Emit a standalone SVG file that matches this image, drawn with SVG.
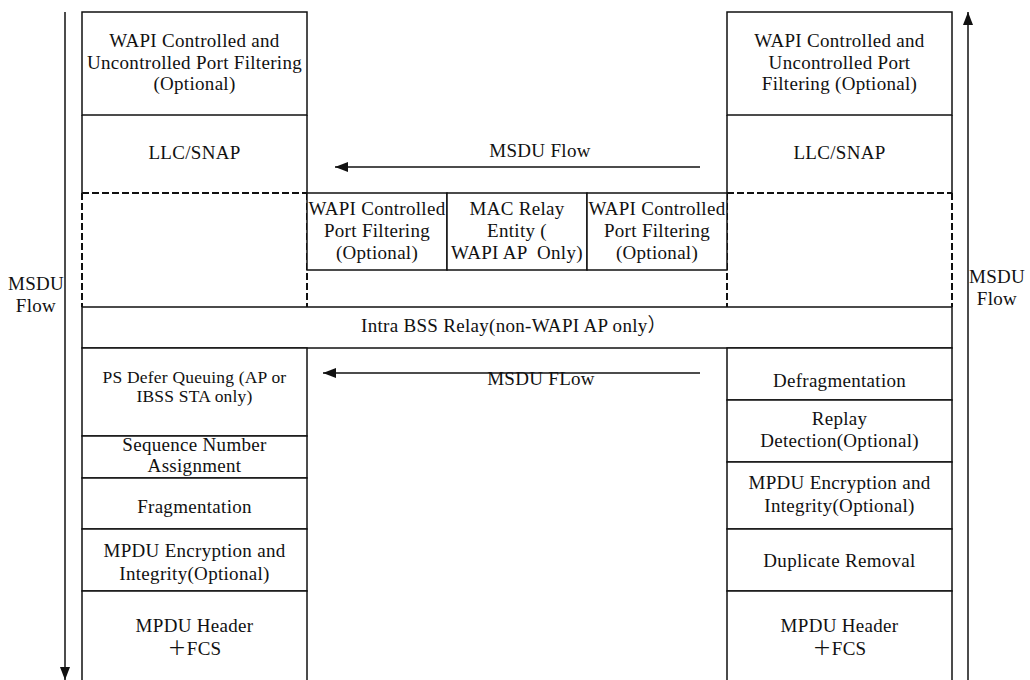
<svg xmlns="http://www.w3.org/2000/svg" width="1030" height="680" viewBox="0 0 1030 680">
<defs>
<style>
.b{fill:#fff;stroke:#111;stroke-width:1.5}
.o{fill:none;stroke:#111;stroke-width:1.5}
.d{fill:none;stroke:#111;stroke-width:2;stroke-dasharray:7 3}
.t{font-family:"Liberation Serif","Times New Roman","Noto Sans CJK SC",serif;font-size:19px;letter-spacing:0.3px;fill:#111;text-anchor:middle;white-space:pre}
.s{font-size:17.5px;letter-spacing:0.2px}
.c{fill:none;stroke:#111;stroke-width:1.5}
</style>
<marker id="ahv" viewBox="0 0 13 10" refX="13" refY="5" markerWidth="13" markerHeight="10" markerUnits="userSpaceOnUse" orient="auto">
<path d="M0,0 L13,5 L0,10 Z" fill="#111"/>
</marker>
</defs>
<rect width="1030" height="680" fill="#fff"/>

<g id="left-port-filtering">
<rect class="b" x="82" y="12" width="225" height="103"/>
<text class="t" x="194.5" y="47">WAPI Controlled and</text>
<text class="t" x="194.5" y="68.5">Uncontrolled Port Filtering</text>
<text class="t" x="194.5" y="90">(Optional)</text>
</g>
<g id="left-llc">
<path class="o" d="M82,115 V193 M307,115 V193"/>
<text class="t" x="194.5" y="159">LLC/SNAP</text>
</g>
<g id="left-dashed">
<path class="d" d="M82,193 H307 M82,193 V307 M307,193 V307"/>
</g>

<g id="right-port-filtering">
<rect class="b" x="727" y="12" width="225" height="103"/>
<text class="t" x="839.5" y="47">WAPI Controlled and</text>
<text class="t" x="839.5" y="68.5">Uncontrolled Port</text>
<text class="t" x="839.5" y="90">Filtering (Optional)</text>
</g>
<g id="right-llc">
<path class="o" d="M727,115 V193 M952,115 V193"/>
<text class="t" x="839.5" y="159">LLC/SNAP</text>
</g>
<g id="right-dashed">
<path class="d" d="M727,193 H952 M727,193 V307 M952,193 V307"/>
</g>

<g id="mid-filter-left">
<rect class="b" x="307" y="193" width="140" height="77"/>
<text class="t" x="377" y="215">WAPI Controlled</text>
<text class="t" x="377" y="237">Port Filtering</text>
<text class="t" x="377" y="259">(Optional)</text>
</g>
<g id="mid-relay">
<rect class="b" x="447" y="193" width="140" height="77"/>
<text class="t" x="517" y="215">MAC Relay</text>
<text class="t" x="517" y="237">Entity (</text>
<text class="t" x="517" y="259">WAPI AP  Only)</text>
</g>
<g id="mid-filter-right">
<rect class="b" x="587" y="193" width="140" height="77"/>
<text class="t" x="657" y="215">WAPI Controlled</text>
<text class="t" x="657" y="237">Port Filtering</text>
<text class="t" x="657" y="259">(Optional)</text>
</g>

<g id="intra-bss">
<rect class="b" x="82" y="307" width="870" height="41"/>
<text class="t" x="514" y="332">Intra BSS Relay(non-WAPI AP only）</text>
</g>

<g id="left-ps-defer">
<rect class="b" x="82" y="348" width="225" height="88"/>
<text class="t s" x="194.5" y="383">PS Defer Queuing (AP or</text>
<text class="t s" x="194.5" y="402">IBSS STA only)</text>
</g>
<g id="left-seq">
<rect class="b" x="82" y="436" width="225" height="42"/>
<text class="t" x="194.5" y="451">Sequence Number</text>
<text class="t" x="194.5" y="472">Assignment</text>
</g>
<g id="left-frag">
<rect class="b" x="82" y="478" width="225" height="51"/>
<text class="t" x="194.5" y="513">Fragmentation</text>
</g>
<g id="left-encrypt">
<rect class="b" x="82" y="529" width="225" height="62"/>
<text class="t" x="194.5" y="557">MPDU Encryption and</text>
<text class="t" x="194.5" y="580">Integrity(Optional)</text>
</g>
<g id="left-header">
<rect class="b" x="82" y="591" width="225" height="95"/>
<text class="t" x="194.5" y="632">MPDU Header</text>
<text class="t" x="194.5" y="655">＋FCS</text>
</g>

<g id="right-defrag">
<rect class="b" x="727" y="348" width="225" height="52"/>
<text class="t" x="839.5" y="387">Defragmentation</text>
</g>
<g id="right-replay">
<rect class="b" x="727" y="400" width="225" height="62"/>
<text class="t" x="839.5" y="425">Replay</text>
<text class="t" x="839.5" y="447">Detection(Optional)</text>
</g>
<g id="right-encrypt">
<rect class="b" x="727" y="462" width="225" height="67"/>
<text class="t" x="839.5" y="489">MPDU Encryption and</text>
<text class="t" x="839.5" y="512">Integrity(Optional)</text>
</g>
<g id="right-dup">
<rect class="b" x="727" y="529" width="225" height="62"/>
<text class="t" x="839.5" y="567">Duplicate Removal</text>
</g>
<g id="right-header">
<rect class="b" x="727" y="591" width="225" height="95"/>
<text class="t" x="839.5" y="632">MPDU Header</text>
<text class="t" x="839.5" y="655">＋FCS</text>
</g>

<g id="connectors">
<line class="c" x1="700" y1="167" x2="335" y2="167" marker-end="url(#ahv)"/>
<line class="c" x1="700" y1="373" x2="323" y2="373" marker-end="url(#ahv)"/>
<line class="c" x1="65" y1="12" x2="65" y2="680" marker-end="url(#ahv)"/>
<line class="c" x1="968" y1="680" x2="968" y2="12" marker-end="url(#ahv)"/>
</g>

<g id="labels">
<text class="t" x="540" y="157">MSDU Flow</text>
<text class="t" x="541" y="385">MSDU FLow</text>
<text class="t" x="36" y="290">MSDU</text>
<text class="t" x="36" y="312">Flow</text>
<text class="t" x="997" y="283">MSDU</text>
<text class="t" x="997" y="305">Flow</text>
</g>
</svg>
